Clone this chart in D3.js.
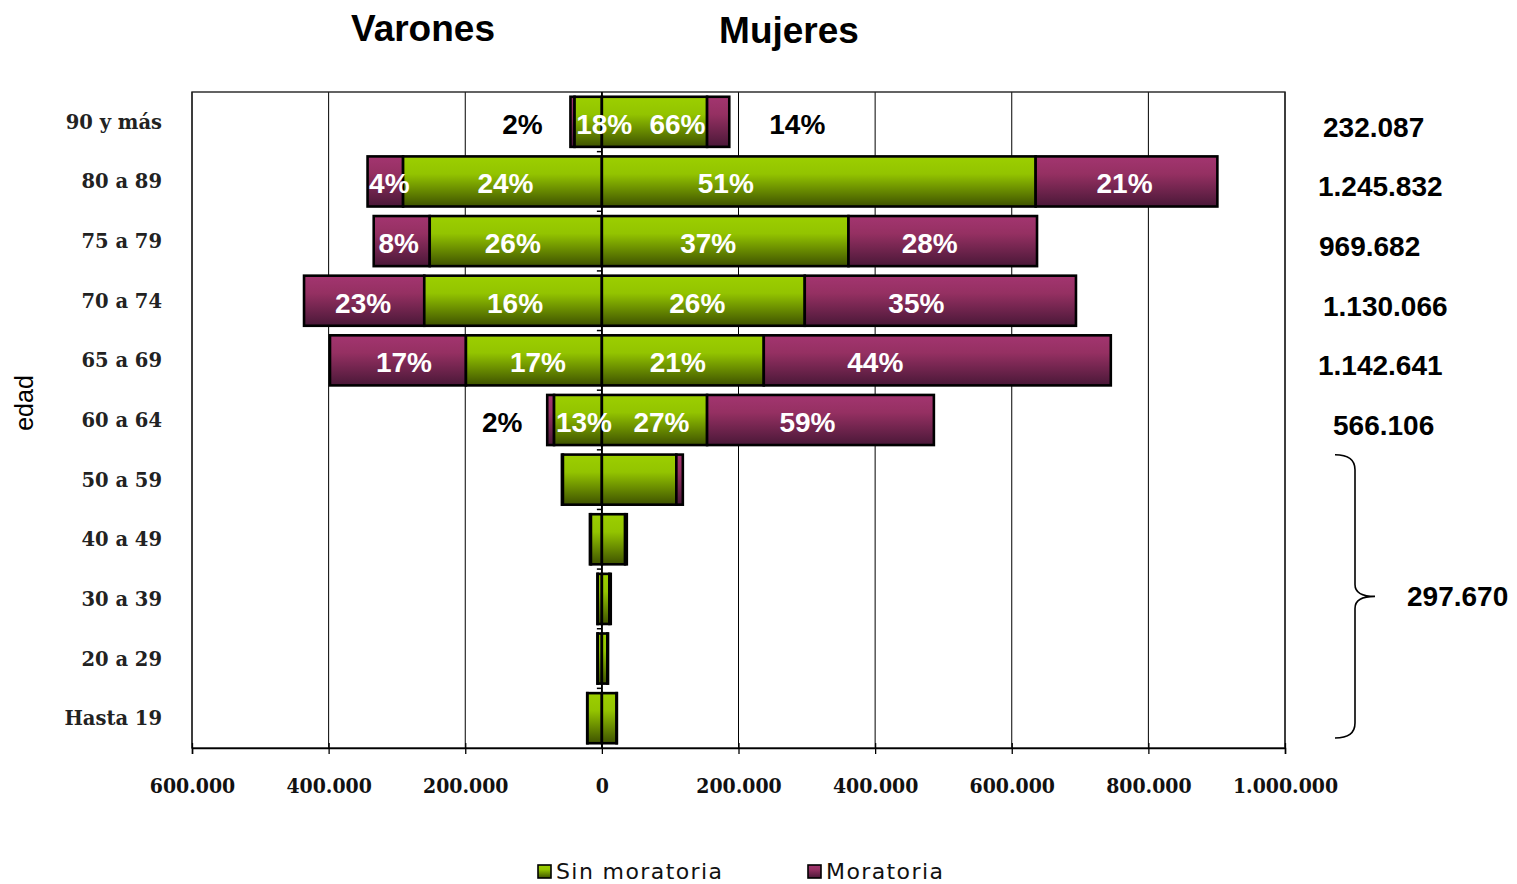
<!DOCTYPE html>
<html>
<head>
<meta charset="utf-8">
<script src="https://cdn.jsdelivr.net/npm/d3@7"></script>
<style>
  body { margin: 0; background: #fff; }
  svg { display: block; }
</style>
</head>
<body>
<svg id="chart" width="1517" height="884"></svg>
<script>
// age groups, top to bottom
var AGES = ["90 y más", "80 a 89", "75 a 79", "70 a 74", "65 a 69", "60 a 64",
            "50 a 59", "40 a 49", "30 a 39", "20 a 29", "Hasta 19"];
// values (people)
var MALE_MOR = [6000, 52000, 82000, 176000, 199000, 10000, 1500, 1500, 500, 500, 500];
var MALE_SIN = [40000, 291000, 252000, 260000, 199000, 70000, 57000, 16000, 6000, 6000, 21000];
var FEM_SIN  = [154000, 635000, 361000, 297000, 237000, 154000, 109000, 34000, 11000, 8000, 21500];
var FEM_MOR  = [32500, 266000, 276000, 397000, 508000, 332000, 9500, 2500, 2000, 1000, 500];
// percentage labels as printed
var PCT_MALE_MOR = ["2%", "4%", "8%", "23%", "17%", "2%"];
var PCT_MALE_SIN = ["18%", "24%", "26%", "16%", "17%", "13%"];
var PCT_FEM_SIN  = ["66%", "51%", "37%", "26%", "21%", "27%"];
var PCT_FEM_MOR  = ["14%", "21%", "28%", "35%", "44%", "59%"];
var ROW_TOTALS = ["232.087", "1.245.832", "969.682", "1.130.066", "1.142.641", "566.106"];
var GROUP_TOTAL = "297.670";
var X_TICKS = [-600000, -400000, -200000, 0, 200000, 400000, 600000, 800000, 1000000];
var SERIES = ["Sin moratoria", "Moratoria"];

// hand nudges of the printed labels (px), same order as segments
var LABEL_NUDGE = [
  [-2, 16, 23, 22],
  [4, 3, -93, -2],
  [-3, -3, -17, -13],
  [-1, 2, -6, -24],
  [6, 4, -5, -62],
  [1, 6, 7, -13]
];
var TOTAL_NUDGE = [3, -2, -1, 3, -2, 13];

var svg = d3.select("#chart");
var M = { left: 192, right: 1285, top: 92, bottom: 748 };

var x = d3.scaleLinear().domain([-600000, 1000000]).range([M.left, M.right]);
var y = d3.scaleBand().domain(AGES).range([M.top, M.bottom]).paddingInner(0.16).paddingOuter(0.08);
var yFull = d3.scaleBand().domain(AGES).range([M.top, M.bottom]);

var loc = d3.formatLocale({ decimal: ",", thousands: ".", grouping: [3], currency: ["$", ""] });
var fmt = loc.format(",");

// gradients
var defs = svg.append("defs");
function grad(id, stops) {
  var g = defs.append("linearGradient").attr("id", id).attr("x1", 0).attr("y1", 0).attr("x2", 0).attr("y2", 1);
  stops.forEach(function (s) { g.append("stop").attr("offset", s[0]).attr("stop-color", s[1]); });
}
grad("gGreen", [[0, "#9ccf00"], [0.35, "#93c400"], [1, "#3e5200"]]);
grad("gPurple", [[0, "#a33570"], [0.35, "#953062"], [1, "#4a1838"]]);

// grid lines
svg.append("g").selectAll("line").data(X_TICKS).enter().append("line")
  .attr("x1", function (d) { return x(d); }).attr("x2", function (d) { return x(d); })
  .attr("y1", M.top).attr("y2", M.bottom)
  .attr("stroke", "#000").attr("stroke-width", function (d) { return d === 0 ? 1.6 : 1; });

// plot frame
svg.append("rect").attr("x", M.left).attr("y", M.top)
  .attr("width", M.right - M.left).attr("height", M.bottom - M.top)
  .attr("fill", "none").attr("stroke", "#222").attr("stroke-width", 1.4);

// small ticks on the category axis (at row boundaries)
svg.append("g").selectAll("line").data(AGES.slice(1)).enter().append("line")
  .attr("x1", x(0) - 5).attr("x2", x(0))
  .attr("y1", function (d) { return yFull(d); }).attr("y2", function (d) { return yFull(d); })
  .attr("stroke", "#000").attr("stroke-width", 1.5);

// segments
var rows = AGES.map(function (a, i) {
  return [
    { x0: -(MALE_SIN[i] + MALE_MOR[i]), x1: -MALE_SIN[i], fill: "url(#gPurple)", pct: PCT_MALE_MOR[i], side: -1, mor: true },
    { x0: -MALE_SIN[i], x1: 0, fill: "url(#gGreen)", pct: PCT_MALE_SIN[i], side: -1 },
    { x0: 0, x1: FEM_SIN[i], fill: "url(#gGreen)", pct: PCT_FEM_SIN[i], side: 1 },
    { x0: FEM_SIN[i], x1: FEM_SIN[i] + FEM_MOR[i], fill: "url(#gPurple)", pct: PCT_FEM_MOR[i], side: 1, mor: true }
  ].map(function (s, k) { s.age = a; s.row = i; s.k = k; return s; });
});
var segs = [].concat.apply([], rows);

svg.append("g").selectAll("rect").data(segs).enter().append("rect")
  .attr("x", function (d) { return x(d.x0); })
  .attr("width", function (d) { return x(d.x1) - x(d.x0); })
  .attr("y", function (d) { return y(d.age); })
  .attr("height", y.bandwidth())
  .attr("fill", function (d) { return d.fill; })
  .attr("stroke", "#000").attr("stroke-width", 2.6);

// zero line over bars
svg.append("line").attr("x1", x(0)).attr("x2", x(0)).attr("y1", M.top).attr("y2", M.bottom)
  .attr("stroke", "#000").attr("stroke-width", 1.6);

// percentage labels (tiny moratoria pieces get their label outside, in black)
function outside(d) { return d.mor && (x(d.x1) - x(d.x0)) < 26; }
var labelled = segs.filter(function (d) { return d.pct; });
svg.append("g").selectAll("text").data(labelled).enter().append("text")
  .attr("x", function (d) {
    var cx;
    if (outside(d)) cx = d.side < 0 ? x(d.x0) - 46 : x(d.x1) + 46;
    else cx = (x(d.x0) + x(d.x1)) / 2;
    return cx + LABEL_NUDGE[d.row][d.k];
  })
  .attr("y", function (d) { return yFull(d.age) + yFull.bandwidth() / 2 + 12; })
  .attr("text-anchor", "middle")
  .attr("font-family", "Liberation Sans, Arial, sans-serif")
  .attr("font-weight", "bold").attr("font-size", 28)
  .attr("fill", function (d) { return outside(d) ? "#000" : "#fff"; })
  .text(function (d) { return d.pct; });

// category labels
svg.append("g").selectAll("text").data(AGES).enter().append("text")
  .attr("x", 162).attr("y", function (d) { return yFull(d) + yFull.bandwidth() / 2 + 7; })
  .attr("text-anchor", "end")
  .attr("font-family", "DejaVu Serif, serif").attr("font-weight", "bold").attr("font-size", 19.5)
  .attr("fill", "#222")
  .text(function (d) { return d; });

// x axis
var xAxis = d3.axisBottom(x).tickValues(X_TICKS).tickSize(6).tickFormat(function (d) { return fmt(Math.abs(d)); });
var gx = svg.append("g").attr("transform", "translate(0," + M.bottom + ")").call(xAxis);
gx.select(".domain").attr("stroke", "#000").attr("stroke-width", 1.5);
gx.selectAll(".tick line").attr("stroke", "#000").attr("stroke-width", 1.3).attr("y1", -5);
gx.selectAll(".tick text")
  .attr("y", 45).attr("dy", 0)
  .attr("font-family", "DejaVu Serif Condensed, DejaVu Serif, serif")
  .attr("font-stretch", "condensed")
  .attr("font-weight", "bold").attr("font-size", 21).attr("fill", "#111");

// y title
svg.append("text").attr("transform", "translate(33,403) rotate(-90)")
  .attr("text-anchor", "middle").attr("font-family", "Liberation Sans, Arial, sans-serif")
  .attr("font-size", 25).attr("fill", "#000").text("edad");

// headings
svg.append("text").attr("x", 423).attr("y", 41).attr("text-anchor", "middle")
  .attr("font-family", "Liberation Sans, Arial, sans-serif").attr("font-weight", "bold").attr("font-size", 37)
  .text("Varones");
svg.append("text").attr("x", 789).attr("y", 43).attr("text-anchor", "middle")
  .attr("font-family", "Liberation Sans, Arial, sans-serif").attr("font-weight", "bold").attr("font-size", 37)
  .text("Mujeres");

// row totals on the right
svg.append("g").selectAll("text").data(ROW_TOTALS).enter().append("text")
  .attr("x", function (d, i) { return 1320 + TOTAL_NUDGE[i]; })
  .attr("y", function (d, i) { return yFull(AGES[i]) + yFull.bandwidth() / 2 + 15; })
  .attr("font-family", "Liberation Sans, Arial, sans-serif").attr("font-weight", "bold").attr("font-size", 28)
  .text(function (d) { return d; });

// brace for the younger groups
var bTop = yFull(AGES[6]) + 5, bBot = yFull(AGES[10]) + yFull.bandwidth() - 10;
var bMid = (bTop + bBot) / 2, bx = 1355;
var p = d3.path();
p.moveTo(bx - 20, bTop);
p.quadraticCurveTo(bx, bTop, bx, bTop + 15);
p.lineTo(bx, bMid - 12);
p.quadraticCurveTo(bx, bMid, bx + 20, bMid);
p.quadraticCurveTo(bx, bMid, bx, bMid + 12);
p.lineTo(bx, bBot - 15);
p.quadraticCurveTo(bx, bBot, bx - 20, bBot);
svg.append("path").attr("d", p.toString()).attr("fill", "none").attr("stroke", "#000").attr("stroke-width", 1.6);
svg.append("text").attr("x", 1407).attr("y", bMid + 10)
  .attr("font-family", "Liberation Sans, Arial, sans-serif").attr("font-weight", "bold").attr("font-size", 28)
  .text(GROUP_TOTAL);

// legend
var leg = svg.append("g").selectAll("g").data(SERIES).enter().append("g")
  .attr("transform", function (d, i) { return "translate(" + (i === 0 ? 538 : 808) + ",865)"; });
leg.append("rect").attr("width", 13).attr("height", 13)
  .attr("fill", function (d, i) { return i === 0 ? "url(#gGreen)" : "url(#gPurple)"; })
  .attr("stroke", "#000").attr("stroke-width", 1.6);
leg.append("text").attr("x", 18).attr("y", 14)
  .attr("font-family", "DejaVu Sans, Verdana, sans-serif").attr("font-size", 22)
  .attr("letter-spacing", 1.4).attr("fill", "#111")
  .text(function (d) { return d; });
</script>
</body>
</html>
